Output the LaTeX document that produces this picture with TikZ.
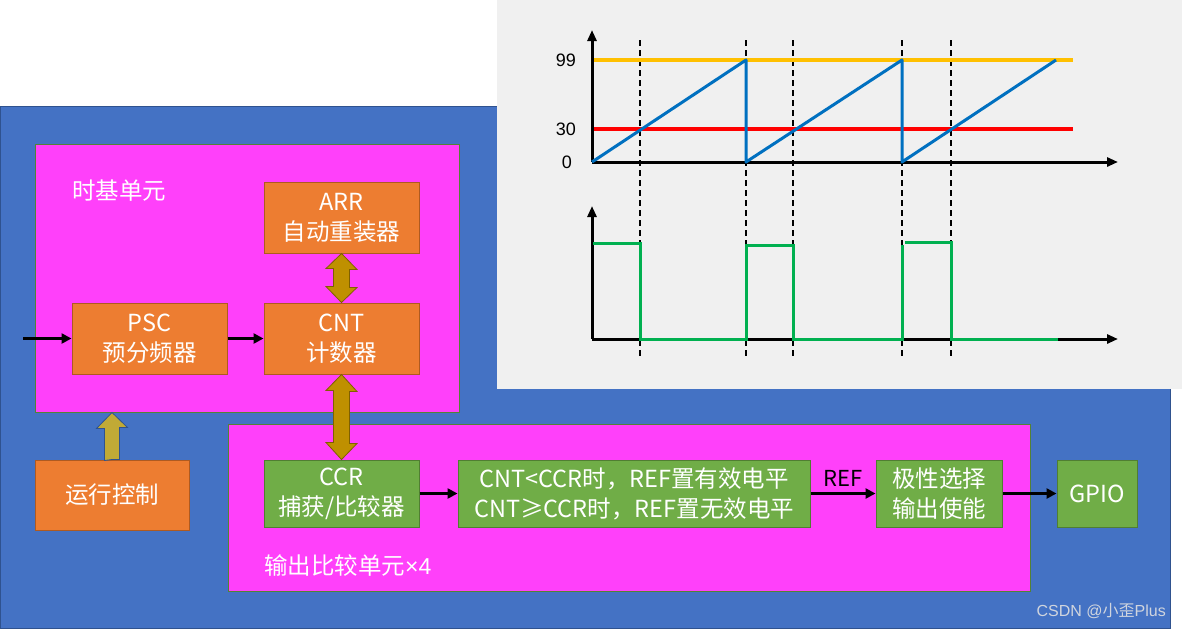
\documentclass[tikz,border=0pt]{standalone}
\usepackage{fontspec}
\setmainfont{Noto Sans CJK SC}
\newfontfamily\numfont{Liberation Sans}
\usetikzlibrary{arrows.meta,calc}
\definecolor{bgblue}{HTML}{4472C4}
\definecolor{bgblueline}{HTML}{2F528F}
\definecolor{pinkfill}{HTML}{FF40FA}
\definecolor{pinkline}{HTML}{548235}
\definecolor{orfill}{HTML}{ED7D31}
\definecolor{orline}{HTML}{AE5A21}
\definecolor{grfill}{HTML}{70AD47}
\definecolor{grline}{HTML}{507E32}
\definecolor{goldfill}{HTML}{BF9000}
\definecolor{goldline}{HTML}{7F6000}
\definecolor{upfill}{HTML}{C1AA36}
\definecolor{panel}{HTML}{F0F0F0}
\definecolor{sawblue}{HTML}{0070C0}
\definecolor{ylw}{HTML}{FFC000}
\definecolor{pwm}{HTML}{00B050}
\definecolor{wm}{HTML}{D0D5DE}
\begin{document}
\begin{tikzpicture}[x=1pt,y=-1pt,
  txt/.style={font=\fontsize{23.5}{30}\selectfont, text=white, align=center, inner sep=0pt},
  obox/.style={txt, draw=orline, fill=orfill, line width=1pt},
  gbox/.style={txt, draw=grline, fill=grfill, line width=1pt},
  pinkbox/.style={draw=pinkline, fill=pinkfill, line width=1pt, inner sep=0pt},
  lbl/.style={font=\fontsize{23.5}{28}\selectfont, text=white, inner sep=0pt, anchor=west},
  flow/.style={line width=2.8pt, -{Triangle[length=10pt,width=10pt]}},
  goldarrow/.style={fill=goldfill, draw=goldline, line width=0.8pt},
  uparrow/.style={fill=upfill, draw=bgblueline, line width=0.8pt},
  axis/.style={line width=3pt, -{Triangle[length=11pt,width=9pt]}},
  vdash/.style={line width=1.7pt, dash pattern=on 6pt off 4pt},
  tick/.style={font=\numfont\fontsize{18}{20}\selectfont, anchor=east, inner sep=0pt, text=black}
]
\useasboundingbox (0,0) rectangle (1182,630);
\fill[white] (0,0) rectangle (1182,630);
% blue background
\node[draw=bgblueline, fill=bgblue, line width=1pt, inner sep=0pt, minimum width=1170pt, minimum height=522pt] (bg) at (585,367) {};
% gray panel
\fill[panel] (497,0) rectangle (1182,389);

% pink regions
\node[pinkbox, minimum width=424pt, minimum height=268pt] (tb) at (247,278) {};
\node[pinkbox, minimum width=802pt, minimum height=167pt] (oc) at (629,507.5) {};
\node[lbl] (tbl) at (72,191) {时基单元};
\node[lbl] (ocl) at (264,566) {输出比较单元{\numfont\fontsize{23}{28}\selectfont×4}};

% boxes
\node[obox, minimum width=155pt, minimum height=71pt] (arr) at (341.5,217.5) {ARR\\自动重装器};
\node[obox, minimum width=155pt, minimum height=71pt] (psc) at (149.5,338.5) {PSC\\预分频器};
\node[obox, minimum width=155pt, minimum height=71pt] (cnt) at (341.5,338.5) {CNT\\计数器};
\node[obox, minimum width=154pt, minimum height=70pt] (run) at (112,495) {运行控制};
\node[gbox, minimum width=155pt, minimum height=67pt] (ccr) at (341.5,493.5) {CCR\\捕获/比较器};
\node[gbox, minimum width=352pt, minimum height=67pt] (cmp) at (634,493.5) {CNT<CCR时，REF置有效电平\\CNT≥CCR时，REF置无效电平};
\node[gbox, minimum width=126pt, minimum height=67pt] (pol) at (939,493.5) {极性选择\\输出使能};
\node[gbox, minimum width=80pt, minimum height=67pt] (gpio) at (1097,493.5) {GPIO};

% flow arrows
\coordinate (in) at (23,338.5);
\draw[flow] (in) -- (psc.west);
\draw[flow] (psc.east) -- (cnt.west);
\draw[flow] (ccr.east) -- (cmp.west);
\draw[flow] (cmp.east) -- node[above=6pt, font=\fontsize{22}{24}\selectfont, text=black, inner sep=0pt] (ref) {REF} (pol.west);
\draw[flow] (pol.east) -- (gpio.west);

% fat double arrows
\draw[goldarrow] (arr.south) -- ++(15.5,16) -- ++(-7.5,0) -- ++(0,18) -- ++(7.5,0) -- (cnt.north)
  -- ++(-15.5,-16) -- ++(7.5,0) -- ++(0,-18) -- ++(-7.5,0) -- cycle;
\draw[goldarrow] (cnt.south) -- ++(15.5,17) -- ++(-7.5,0) -- ++(0,52) -- ++(7.5,0) -- (ccr.north)
  -- ++(-15.5,-17) -- ++(7.5,0) -- ++(0,-52) -- ++(-7.5,0) -- cycle;
% up arrow from run control
\coordinate (runtip) at (run.north |- tb.south);
\draw[uparrow] (run.north) -- ++(7.5,0) -- ++(0,-32) -- ++(8,0) -- (runtip) -- ++(-15.5,16) -- ++(8,0) -- ++(0,32) -- cycle;

% watermark
\node[font=\numfont\fontsize{16}{18}\selectfont, text=wm, anchor=east, inner sep=0pt] (wmk) at (1166,611) {CSDN @{\fontspec{Noto Sans CJK SC}小歪}Plus};

% ===== chart =====
\foreach \xx in {640,746,793,902,951} {\draw[vdash] (\xx,40) -- (\xx,357);}
\coordinate (o1) at (592,162);
\coordinate (o2) at (592,339);
\draw[ylw, line width=3.2pt] (592,60) -- (1073,60);
\draw[red, line width=3.2pt] (592,129) -- (1073,129);
\draw[axis] (o1) -- (592,30);
\draw[axis] (o1) -- (1118,162);
\draw[sawblue, line width=3pt, line join=round] (o1) -- (746,60) -- (746,162) -- (902,60) -- (902,162) -- (1056,60);
\node[tick] (t99) at (576,60) {99};
\node[tick] (t30) at (576,129) {30};
\node[tick] (t0) at (572,162) {0};

\draw[axis] (o2) -- (592,206);
\draw[axis] (o2) -- (1118,339);
\draw[pwm, line width=3pt] (593,243) -- (640,243) -- (640,339) -- (746,339) -- (746,245) -- (793,245) -- (793,339) -- (902,339) -- (902,245);
\draw[pwm, line width=3pt] (905,242) -- (951,242) -- (951,339) -- (1058,339);
\end{tikzpicture}
\end{document}
